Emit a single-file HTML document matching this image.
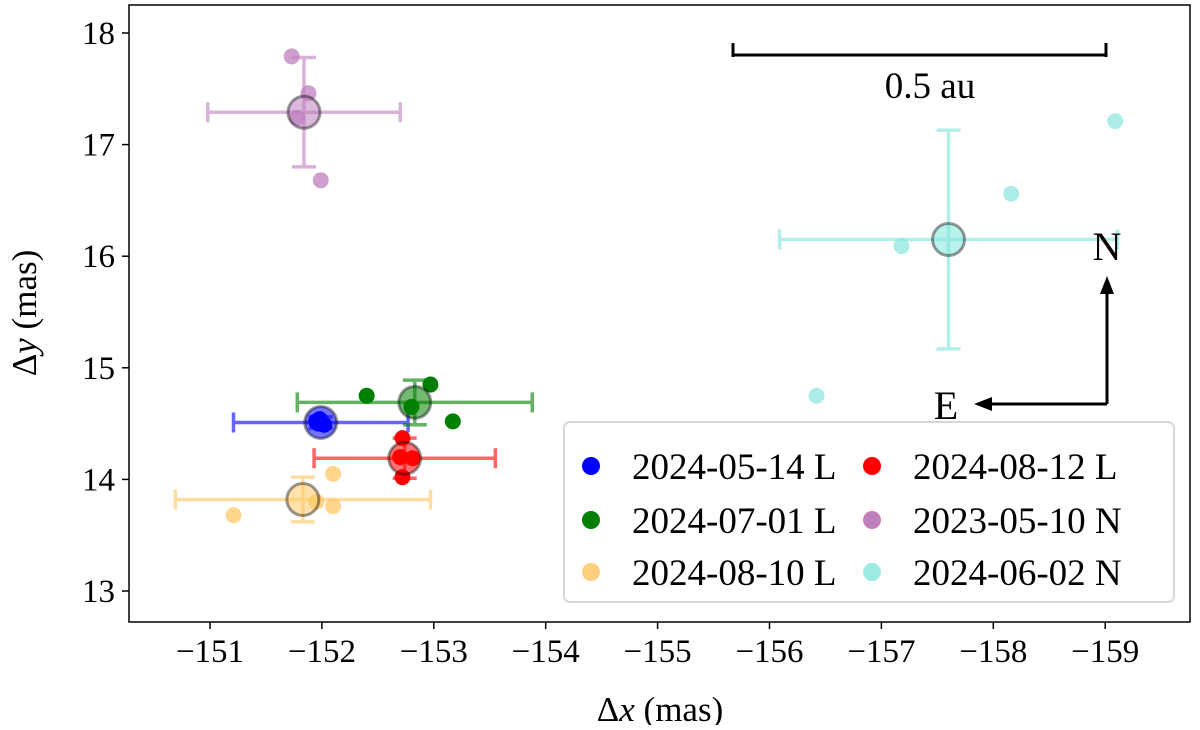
<!DOCTYPE html>
<html><head><meta charset="utf-8"><style>
body{margin:0;background:#fff}
svg text{font-family:"Liberation Serif",serif;fill:#000}
</style></head><body>
<svg id="chart" width="1200" height="725" xmlns="http://www.w3.org/2000/svg">
<g id="plot"></g>
<g id="axes"></g>
</svg>
<script>
const seriesNames=["2024-05-14 L","2024-07-01 L","2024-08-10 L","2024-08-12 L","2023-05-10 N","2024-06-02 N"];
const seriesColors=["#0000ff","#007f00","#ffc864","#ff0000","#bf7fbf","#7fe5da"];
const pointAlpha=[1,1,0.75,1,0.75,0.65];
const meanX=[-151.99,-152.83,-151.83,-152.74,-151.84,-157.60];
const meanY=[14.51,14.69,13.82,14.19,17.29,16.15];
const errX=[0.78,1.05,1.14,0.81,0.86,1.51];
const errY=[0.05,0.20,0.20,0.18,0.49,0.98];
const ptsX=[[-151.95,-152.02,-151.98,-151.97],[-152.40,-152.97,-153.17,-152.80],[-152.10,-151.21,-152.10,-151.95],[-152.72,-152.72,-152.81,-152.70],[-151.73,-151.88,-151.78,-151.99],[-159.09,-158.16,-157.18,-156.42]];
const ptsY=[[14.52,14.49,14.54,14.50],[14.75,14.85,14.52,14.65],[14.05,13.68,13.76,13.80],[14.37,14.02,14.19,14.20],[17.79,17.46,17.24,16.68],[17.21,16.56,16.09,14.75]];
const xTicks=[-151,-152,-153,-154,-155,-156,-157,-158,-159];
const yTicks=[13,14,15,16,17,18];
const NS="http://www.w3.org/2000/svg";
const L=129,R=1190,T=5,B=622;
const sx=v=>210+(-v-151)*111.9;
const sy=v=>33+(18-v)*111.6;
function mk(tag,attrs,parent){const e=document.createElementNS(NS,tag);for(const k in attrs)e.setAttribute(k,attrs[k]);parent.appendChild(e);return e;}
const plot=document.getElementById('plot'),axes=document.getElementById('axes');
const order=[5,4,2,0,1,3];
order.forEach(i=>{
  const c=seriesColors[i],g=mk('g',{},plot);
  
  
  const mx=sx(meanX[i]),my=sy(meanY[i]);
  const x1=sx(meanX[i]-errX[i]),x2=sx(meanX[i]+errX[i]),y1=sy(meanY[i]-errY[i]),y2=sy(meanY[i]+errY[i]);
  const eb=mk('g',{stroke:c,'stroke-width':3.5,opacity:0.6},g);
  
  
  mk('line',{x1:x1,y1:my,x2:x2,y2:my},eb);
  mk('line',{x1:x1,y1:my-10,x2:x1,y2:my+10},eb);
  mk('line',{x1:x2,y1:my-10,x2:x2,y2:my+10},eb);
  mk('line',{x1:mx,y1:y1,x2:mx,y2:y2},eb);
  mk('line',{x1:mx-12,y1:y1,x2:mx+12,y2:y1},eb);
  mk('line',{x1:mx-12,y1:y2,x2:mx+12,y2:y2},eb);
  ptsX[i].forEach((px,j)=>{
    const p=mk('circle',{cx:sx(px),cy:sy(ptsY[i][j]),r:8,fill:c,'fill-opacity':pointAlpha[i]},g);
    
    
  });
  const m=mk('circle',{cx:mx,cy:my,r:16,fill:c,'fill-opacity':0.55,stroke:'#000','stroke-opacity':0.4,'stroke-width':3},g);
  
  
});
const fr=mk('rect',{x:L,y:T,width:R-L,height:B-T,fill:'none',stroke:'#000','stroke-width':1.5},axes);


xTicks.forEach(v=>{
  const x=sx(v);
  mk('line',{x1:x,y1:B,x2:x,y2:B+7,stroke:'#000','stroke-width':1.5},axes);
  const t=mk('text',{x:x,y:B+40,'text-anchor':'middle','font-size':33},axes);
  t.textContent='\u2212'+Math.abs(v);
  
  
});
yTicks.forEach(v=>{
  const y=sy(v);
  mk('line',{x1:L-7,y1:y,x2:L,y2:y,stroke:'#000','stroke-width':1.5},axes);
  const t=mk('text',{x:L-14,y:y+11,'text-anchor':'end','font-size':33},axes);
  t.textContent=v;
  
  
});
</script>
<svg width="1200" height="725" style="position:absolute;left:0;top:0" xmlns="http://www.w3.org/2000/svg">
<text x="660" y="721" text-anchor="middle" font-size="35">Δ<tspan font-style="italic">x</tspan> (mas)</text>
<text transform="translate(36,313) rotate(-90)" text-anchor="middle" font-size="35">Δ<tspan font-style="italic">y</tspan> (mas)</text>
<g stroke="#000" stroke-width="3">
<line x1="733" y1="55" x2="1106" y2="55"/><line x1="733" y1="43" x2="733" y2="57"/><line x1="1106" y1="43" x2="1106" y2="57"/>
</g>
<text x="930" y="98" text-anchor="middle" font-size="37">0.5 au</text>
<g stroke="#000" stroke-width="3" fill="#000">
<line x1="1107" y1="404" x2="1107" y2="292"/><polygon points="1107,276 1100,294 1114,294" stroke="none"/>
<line x1="1107" y1="404" x2="990" y2="404"/><polygon points="974,404 992,397 992,411" stroke="none"/>
</g>
<text x="1107" y="260" text-anchor="middle" font-size="40">N</text>
<text x="946" y="419" text-anchor="middle" font-size="40">E</text>
<g>
<rect x="564" y="422" width="610" height="180" rx="6" fill="#fff" fill-opacity="0.85" stroke="#d6d6d6" stroke-width="2"/>
<g font-size="37">
<circle cx="591" cy="466" r="9" fill="#0000ff"/><text x="632" y="479">2024-05-14 L</text>
<circle cx="591" cy="520" r="9" fill="#007f00"/><text x="632" y="533">2024-07-01 L</text>
<circle cx="591" cy="572" r="9" fill="#ffc864" fill-opacity="0.85"/><text x="632" y="585">2024-08-10 L</text>
<circle cx="872" cy="466" r="9" fill="#ff0000"/><text x="913" y="479">2024-08-12 L</text>
<circle cx="872" cy="520" r="9" fill="#bf7fbf"/><text x="913" y="533">2023-05-10 N</text>
<circle cx="872" cy="572" r="9" fill="#9eebe3"/><text x="913" y="585">2024-06-02 N</text>
</g>
</g>
</svg>
</body></html>
